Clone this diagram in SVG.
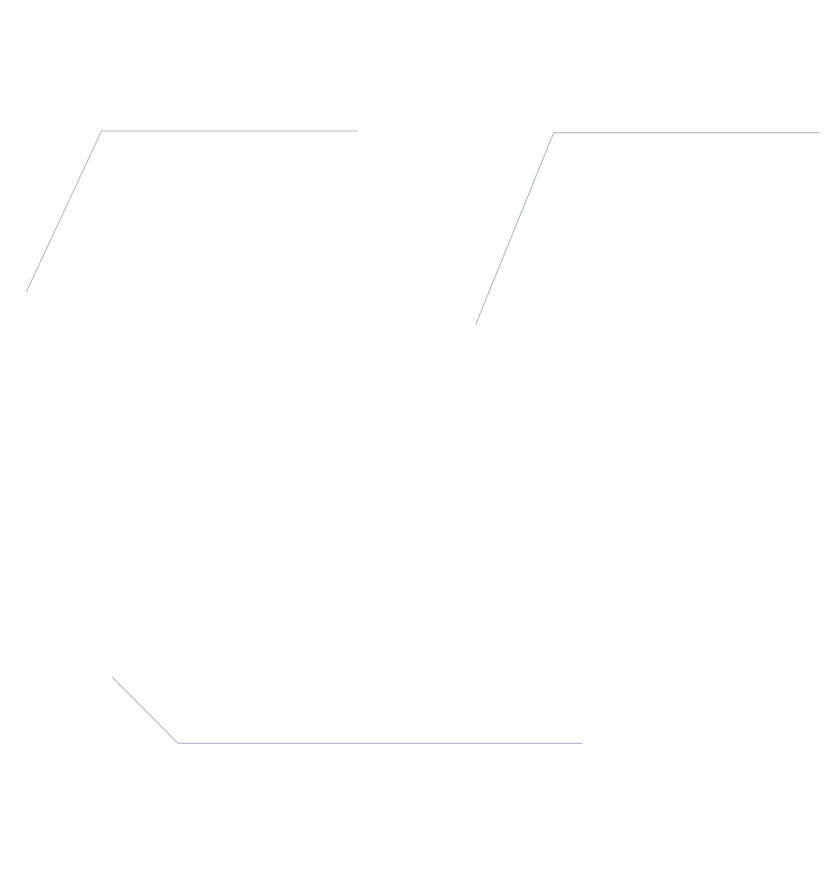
<svg xmlns="http://www.w3.org/2000/svg" width="827" height="880" viewBox="0 0 827 880">
<style>
.leader{fill:none;stroke:#b9c0cc;stroke-width:1.2}
</style>
<rect width="827" height="880" fill="#ffffff"/>
<g id="connectors">
<polyline class="leader" points="26,292.5 101.5,131 358.5,131"/>
<polyline class="leader" points="475.7,324.5 553.7,132.7 819.5,132.7"/>
<polyline class="leader" points="112,677 178,743.3 582.5,743.3"/>
</g>
</svg>
